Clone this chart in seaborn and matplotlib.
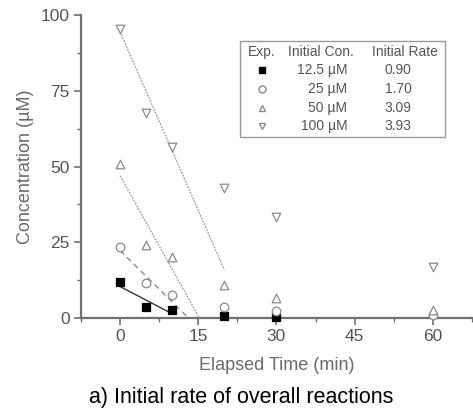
import numpy as np
import pandas as pd
import matplotlib
matplotlib.use("Agg")
import matplotlib.pyplot as plt
from matplotlib.lines import Line2D
from matplotlib.patches import Rectangle
from matplotlib.ticker import MultipleLocator
import seaborn as sns

# Measured concentrations (uM) at each sampling time (min)
times = [0, 5, 10, 20, 30, 60]
conc_12_5 = [11.8, 3.5, 2.6, 0.8, 0.3, np.nan]
conc_25 = [23.5, 11.5, 7.6, 3.7, 2.3, 1.0]
conc_50 = [50.8, 24.0, 20.0, 10.9, 6.5, 2.8]
conc_100 = [95.5, 67.6, 56.5, 42.8, 33.4, 16.9]

experiments = ["12.5 \u00b5M", "25 \u00b5M", "50 \u00b5M", "100 \u00b5M"]
initial_rates = [0.90, 1.70, 3.09, 3.93]
# linear fits: intercept and fitted time span
fit_intercepts = [10.4, 22.3, 47.0, 94.5]
fit_end_times = [10, 13, 15.2, 20]

# Build the long table for seaborn
df = pd.DataFrame({
    "Time": times * 4,
    "Conc": conc_12_5 + conc_25 + conc_50 + conc_100,
    "Exp": [e for e in experiments for _ in times],
})

sns.set_style("ticks")
plt.rcParams["font.family"] = ["Liberation Sans", "DejaVu Sans"]

fig = plt.figure(figsize=(4.73, 4.08), dpi=100)
ax = fig.add_axes([0.171, 0.2206, 0.827, 0.7426])

grey = "#8a8a8a"
markers = {"12.5 \u00b5M": "s", "25 \u00b5M": "o", "50 \u00b5M": "^", "100 \u00b5M": "v"}
faces = ["black", "white", "white", "white"]
edges = ["black", grey, grey, grey]

# fit lines
line_styles = [("-", "#333333", 1.0), ((0, (4, 3)), grey, 1.0),
               ((0, (1.5, 1)), "#999999", 0.9), ((0, (1.5, 1)), "#999999", 0.9)]
for b, r, tend, (ls, col, lw) in zip(fit_intercepts, initial_rates, fit_end_times, line_styles):
    tt = np.array([0, tend])
    sns.lineplot(x=tt, y=b - r * tt, ax=ax, color=col, linestyle=ls, linewidth=lw, legend=False)

# measured points
for exp, fc, ec in zip(experiments, faces, edges):
    sub = df[df["Exp"] == exp]
    sns.scatterplot(data=sub, x="Time", y="Conc", marker=markers[exp], s=38,
                    facecolor=fc, edgecolor=ec, linewidth=0.9, ax=ax,
                    legend=False, clip_on=False, zorder=3)

ax.set_xlim(-7.5, 67.5)
ax.set_ylim(0, 100)
ax.set_xticks([0, 15, 30, 45, 60])
ax.set_yticks([0, 25, 50, 75, 100])
ax.xaxis.set_minor_locator(MultipleLocator(7.5))
ax.yaxis.set_minor_locator(MultipleLocator(12.5))
sns.despine(ax=ax)
for s in ["left", "bottom"]:
    ax.spines[s].set_color("#707070")
    ax.spines[s].set_linewidth(1.6)
ax.tick_params(which="major", direction="out", length=5, width=1.2, color="#707070",
               labelsize=12.5, labelcolor="#555555", pad=3)
ax.tick_params(which="minor", direction="out", length=3, width=1.0, color="#707070")
ax.set_xlabel("Elapsed Time (min)", fontsize=13, color="#6a6a6a", labelpad=9)
ax.set_ylabel("Concentration (\u00b5M)", fontsize=13, color="#6a6a6a", labelpad=5)

# legend table
tf = fig.transFigure
fig.add_artist(Rectangle((0.507, 0.664), 0.434, 0.2355, transform=tf, fill=False,
                         edgecolor="#9a9a9a", linewidth=1.0))
hdr_y = 0.873
txt_kw = dict(transform=tf, fontsize=10, color="#555555", va="center")
fig.text(0.554, hdr_y, "Exp.", ha="center", **txt_kw)
fig.text(0.679, hdr_y, "Initial Con.", ha="center", **txt_kw)
fig.text(0.856, hdr_y, "Initial Rate", ha="center", **txt_kw)
row_y = [0.828, 0.782, 0.735, 0.691]
for exp, rate, fc, ec, yy in zip(experiments, initial_rates, faces, edges, row_y):
    fig.add_artist(Line2D([0.554], [yy], transform=tf, marker=markers[exp], markersize=5,
                          markerfacecolor=fc, markeredgecolor=ec, linestyle="none"))
    fig.text(0.734, yy, exp, ha="right", **txt_kw)
    fig.text(0.842, yy, f"{rate:.2f}", ha="center", **txt_kw)

fig.text(0.51, 0.026, "a) Initial rate of overall reactions", ha="center", va="center",
         fontsize=15.5, color="black")

fig.savefig("out.png", dpi=100)
